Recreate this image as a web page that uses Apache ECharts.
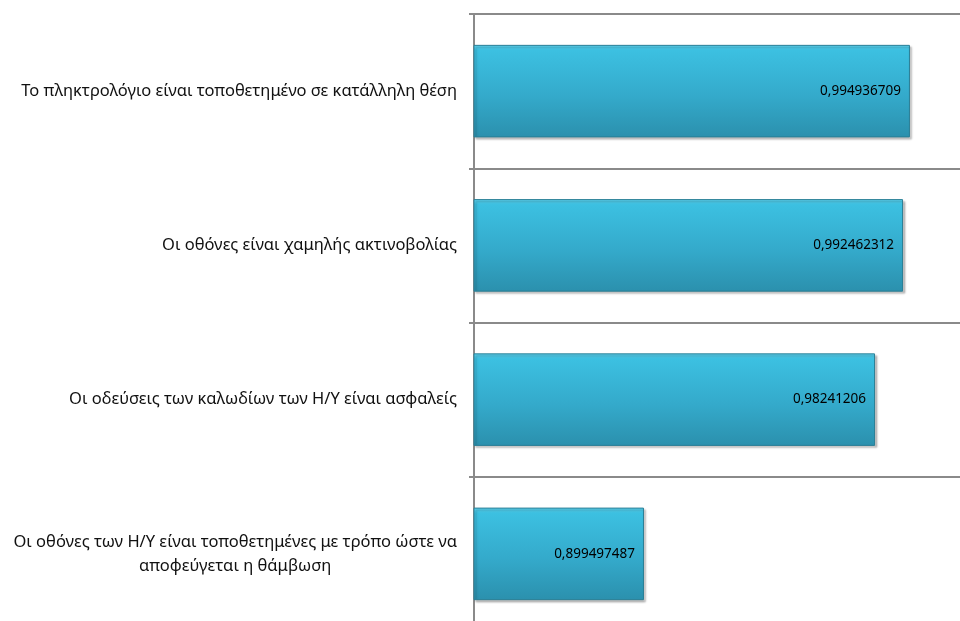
<!DOCTYPE html>
<html>
<head>
<meta charset="utf-8">
<script src="https://cdn.jsdelivr.net/npm/echarts@6/dist/echarts.min.js"></script>
<style>
  html, body { margin: 0; padding: 0; background: #fff; }
  #chart { width: 960px; height: 621px; }
</style>
</head>
<body>
<div id="chart"></div>
<script>
// κατηγορίες (από πάνω προς τα κάτω)
const categories = [
  'Το πληκτρολόγιο είναι τοποθετημένο σε κατάλληλη θέση',
  'Οι οθόνες είναι χαμηλής ακτινοβολίας',
  'Οι οδεύσεις των καλωδίων των Η/Υ είναι ασφαλείς',
  'Οι οθόνες των Η/Υ είναι τοποθετημένες με τρόπο ώστε να\nαποφεύγεται η θάμβωση'
];
const values = [0.994936709, 0.992462312, 0.98241206, 0.899497487];

const font = 'Noto Sans';

const chart = echarts.init(document.getElementById('chart'));
chart.setOption({
  animation: false,
  grid: { left: 474, right: 0, top: 14, height: 617, containLabel: false, outerBoundsMode: 'none' },
  xAxis: {
    type: 'value',
    min: 0.8385,
    max: 1.0129,
    axisLine: { show: false },
    axisTick: { show: false },
    axisLabel: { show: false },
    splitLine: { show: false }
  },
  yAxis: {
    type: 'category',
    inverse: true,
    data: categories,
    axisLine: { lineStyle: { color: '#8a8a8a', width: 2 } },
    axisTick: { show: true, length: 5, lineStyle: { color: '#8a8a8a', width: 2 } },
    splitLine: { show: true, lineStyle: { color: '#8a8a8a', width: 2 } },
    axisLabel: {
      margin: 17,
      fontFamily: font,
      fontSize: 16.5,
      color: '#111',
      formatter: function(v) {
        // πολλές γραμμές στο κέντρο
        return v.split('\n').map(s => '{c|' + s + '}').join('\n');
      },
      rich: {
        c: { align: 'center', fontFamily: font, fontSize: 16.5, color: '#111', lineHeight: 24 }
      }
    }
  },
  series: [{
    type: 'bar',
    data: values,
    barWidth: '60%',
    itemStyle: {
      color: new echarts.graphic.LinearGradient(0, 0, 0, 1, [
        { offset: 0, color: '#5fd2ee' },
        { offset: 0.06, color: '#3cc0e1' },
        { offset: 0.55, color: '#34aacb' },
        { offset: 1, color: '#2b90ad' }
      ]),
      borderColor: '#2a7f96',
      borderWidth: 1,
      shadowColor: 'rgba(0,0,0,0.25)',
      shadowBlur: 2,
      shadowOffsetX: 2,
      shadowOffsetY: 2
    },
    label: {
      show: true,
      position: 'insideRight',
      distance: 9,
      fontFamily: font,
      fontSize: 13.5,
      color: '#000',
      formatter: p => String(p.value).replace('.', ',')
    }
  }]
});
</script>
</body>
</html>
